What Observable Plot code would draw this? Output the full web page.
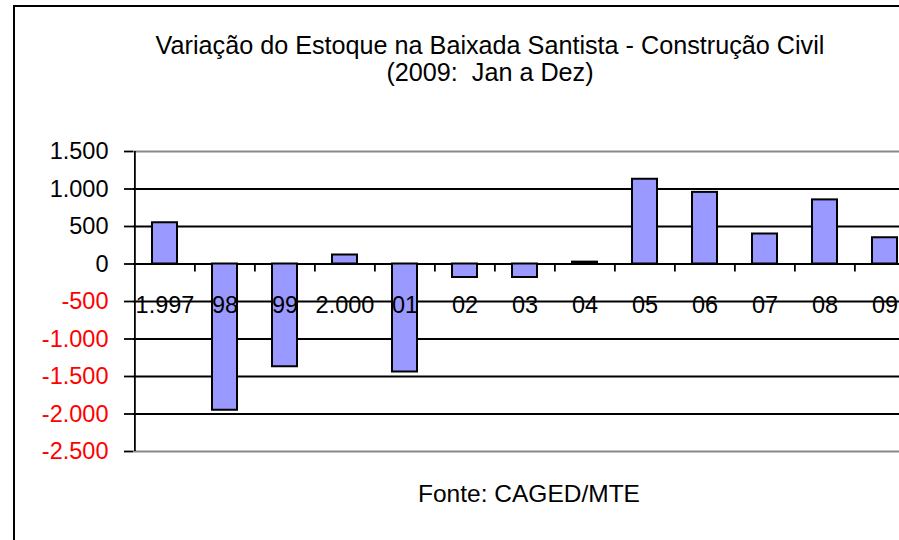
<!DOCTYPE html>
<html><head><meta charset="utf-8">
<script src="https://cdn.jsdelivr.net/npm/d3@7"></script>
<script src="https://cdn.jsdelivr.net/npm/@observablehq/plot@0.6"></script>
<style>
html,body{margin:0;padding:0;background:#fff;overflow:hidden;}
#wrap{position:relative;width:899px;height:540px;overflow:hidden;font-family:"Liberation Sans",Arial,sans-serif;color:#000;}
#border{position:absolute;left:13px;top:5px;width:1000px;height:1000px;border-left:2px solid #000;border-top:2px solid #000;box-sizing:border-box;}
#chart{position:absolute;left:0;top:0;width:930px;height:540px;}
#chart svg{max-width:none !important;}
.t{position:absolute;left:0;text-align:center;white-space:nowrap;}
#title{top:32px;width:980px;font-size:25.2px;line-height:27px;}
#caption{top:480px;width:1058px;font-size:24.5px;line-height:28px;}
</style>
</head><body>
<div id="wrap">
  <div id="border"></div>
  <div id="chart"></div>
  <div id="title" class="t">Variação do Estoque na Baixada Santista - Construção Civil<br>(2009:&nbsp; Jan a Dez)</div>
  <div id="caption" class="t">Fonte: CAGED/MTE</div>
</div>
<script>
const years = ["1.997","98","99","2.000","01","02","03","04","05","06","07","08","09"];
const values = [550,-1950,-1370,120,-1440,-180,-180,25,1130,955,400,855,350];
const yTicks = [-2500,-2000,-1500,-1000,-500,0,500,1000,1500];

const data = years.map((year,i)=>({year, value: values[i]}));
const W=930,H=540,mL=133,mR=14,mT=151,mB=89;
const step=(W-mL-mR)/years.length;
const fmt = d => (d<0?"-":"")+String(Math.abs(d)).replace(/\B(?=(\d{3})+(?!\d))/g,".");
const yMin = d3.min(yTicks), yMax = d3.max(yTicks);

const chart = Plot.plot({
  width:W,height:H,marginLeft:mL,marginRight:mR,marginTop:mT,marginBottom:mB,
  style:{fontFamily:"'Liberation Sans', Arial, sans-serif",fontSize:"23.5px",background:"transparent",color:"black",overflow:"visible",maxWidth:"none"},
  x:{type:"band",domain:years,paddingInner:0.585,paddingOuter:0.2925,axis:null,label:null},
  y:{domain:[yMin,yMax],axis:null,label:null},
  marks:[
    Plot.ruleY(yTicks.filter(d=>d>yMin&&d<yMax),{stroke:"black",strokeWidth:1.8}),
    Plot.ruleY([yMin,yMax],{stroke:"#888",strokeWidth:2}),
    Plot.ruleX(years.slice(0,1),{dx:-step/2,stroke:"black",strokeWidth:1.8}),
    Plot.ruleX(years.slice(1),{y1:0,y2:0,insetBottom:-8,dx:-step/2,stroke:"black",strokeWidth:1.8}),
    Plot.barY(data,{x:"year",y:"value",fill:"#9999FF",stroke:"black",strokeWidth:2}),
    Plot.text(data,{x:"year",y:0,text:"year",dy:41,fill:"black",fontSize:23.5}),
    Plot.axisY(yTicks.filter(d=>d>=0),{tickSize:9,tickPadding:16,tickFormat:fmt,fill:"black",stroke:"black",strokeWidth:1.8,fontSize:23.5,label:null}),
    Plot.axisY(yTicks.filter(d=>d<0),{tickSize:9,tickPadding:16,tickFormat:fmt,fill:"#FF0000",stroke:"black",strokeWidth:1.8,fontSize:23.5,label:null})
  ]
});
document.getElementById("chart").appendChild(chart);
</script>
</body></html>
